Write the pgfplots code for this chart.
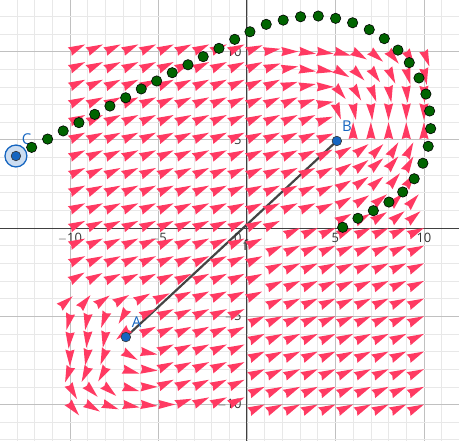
\documentclass[border=0pt]{standalone}
\usepackage{pgfplots}
\pgfplotsset{compat=1.18}
\usepackage{fontspec}
\setmainfont{Open Sans}
\definecolor{pk}{RGB}{255,58,98}
\definecolor{gdot}{RGB}{0,100,0}
\definecolor{ptblue}{RGB}{21,101,192}
\definecolor{minorgrid}{RGB}{232,232,232}
\definecolor{majorgrid}{RGB}{192,192,192}
\definecolor{segc}{RGB}{68,68,68}
\pgfdeclareplotmark{wedge}{%
 \pgfpathmoveto{\pgfqpoint{0pt}{0pt}}%
 \pgfpathlineto{\pgfqpoint{-17pt}{4.6pt}}%
 \pgfpathlineto{\pgfqpoint{-15.5pt}{0pt}}%
 \pgfpathlineto{\pgfqpoint{-17pt}{-4.6pt}}%
 \pgfpathclose\pgfusepathqfill}
\tikzset{tl/.style={inner sep=0pt, text=black!80, font=\fontsize{13}{13}\selectfont}}
\begin{document}
\begin{tikzpicture}
\begin{axis}[name=ax,
 scale only axis, width=459bp, height=441bp,
 xmin=-13.95, xmax=11.98, ymin=-12.07, ymax=12.92,
 axis line style={draw=none},
 xtick={-10,-5,0,5,10}, ytick={-10,-5,0,5,10},
 minor xtick={-13,...,11}, minor ytick={-12,...,12},
 xticklabels={}, yticklabels={},
 major tick length=0pt, minor tick length=0pt,
 grid=both,
 major grid style={draw=majorgrid, line width=0.8pt},
 minor grid style={draw=minorgrid, line width=0.6pt},
]
\draw[black!75, line width=0.9pt] (axis cs:-13.95,0) -- (axis cs:11.98,0);
\draw[black!75, line width=0.9pt] (axis cs:0,-12.07) -- (axis cs:0,12.92);
\addplot[only marks, mark=wedge, color=pk, scatter,
 visualization depends on={\thisrow{a} \as \ang},
 scatter/@pre marker code/.code={\scope[rotate=\ang]},
 scatter/@post marker code/.code={\endscope}]
 table[row sep=\\, x expr={\thisrow{x}+\thisrow{m}*cos(\thisrow{a})}, y expr={\thisrow{y}+\thisrow{m}*sin(\thisrow{a})}] {
x y m a\\
-10 10 .95 25\\ -9 10 .95 25\\ -8 10 .95 25\\ -7 10 .95 25\\ -6 10 .95 25\\ -5 10 .95 25\\ -4 10 .95 25\\ -3 10 .95 25\\ -2 10 .95 25\\ -1 10 .95 25\\ 0 10 .95 22\\
1 10 .9 10\\ 2 10 .9 0\\ 3 10 .9 -8\\ 4 10 .9 -8\\ 5 10 .9 -15\\ 6 10 .9 -30\\ 7 10 .9 -40\\ 8 10 .9 -50\\ 9 10 .9 -60\\ 10 10 .9 -70\\
-10 9 .95 25\\ -9 9 .95 25\\ -8 9 .95 25\\ -7 9 .95 25\\ -6 9 .95 25\\ -5 9 .95 25\\ -4 9 .95 25\\ -3 9 .95 25\\ -2 9 .95 25\\ -1 9 .95 25\\ 0 9 .95 25\\ 1 9 .95 20\\
2 9 .9 10\\ 3 9 .9 -8\\ 4 9 .9 -10\\ 5 9 .9 -30\\ 6 9 .9 -45\\ 7 9 .9 -55\\ 8 9 .9 -65\\ 9 9 .9 -75\\ 10 9 .9 -80\\
-10 8 .95 25\\ -9 8 .95 25\\ -8 8 .95 25\\ -7 8 .95 25\\ -6 8 .95 25\\ -5 8 .95 25\\ -4 8 .95 25\\ -3 8 .95 25\\ -2 8 .95 25\\ -1 8 .95 25\\ 0 8 .95 25\\ 1 8 .95 25\\
2 8 .9 18\\ 3 8 .9 10\\ 4 8 .9 0\\ 5 8 .9 -50\\ 6 8 .9 -60\\ 7 8 .9 -70\\ 8 8 .9 -80\\ 9 8 .9 -85\\ 10 8 .9 -88\\
-10 7 .95 25\\ -9 7 .95 25\\ -8 7 .95 25\\ -7 7 .95 25\\ -6 7 .95 25\\ -5 7 .95 25\\ -4 7 .95 25\\ -3 7 .95 25\\ -2 7 .95 25\\ -1 7 .95 25\\ 0 7 .95 25\\ 1 7 .95 25\\ 2 7 .95 25\\
3 7 .9 20\\ 4 7 .9 10\\ 5 7 .9 -70\\ 6 7 .9 -80\\ 7 7 .9 -85\\ 8 7 .9 -90\\ 9 7 .9 -90\\ 10 7 .9 -90\\
-10 6 .95 25\\ -9 6 .95 25\\ -8 6 .95 25\\ -7 6 .95 25\\ -6 6 .95 25\\ -5 6 .95 25\\ -4 6 .95 25\\ -3 6 .95 25\\ -2 6 .95 25\\ -1 6 .95 25\\ 0 6 .95 25\\ 1 6 .95 25\\ 2 6 .95 25\\ 3 6 .95 25\\
4 6 .9 20\\ 6 6 0 90\\ 7 6 0 90\\ 8 6 0 90\\ 9 6 0 90\\ 10 6 0 90\\
-10 5 .95 25\\ -9 5 .95 25\\ -8 5 .95 25\\ -7 5 .95 25\\ -6 5 .95 25\\ -5 5 .95 25\\ -4 5 .95 25\\ -3 5 .95 25\\ -2 5 .95 25\\ -1 5 .95 25\\ 0 5 .95 25\\ 1 5 .95 25\\ 2 5 .95 25\\ 3 5 .95 25\\ 4 5 .95 22\\
5.91 4.6 0 30\\ 6.86 4.75 0 37\\ 7.7 4.75 0 45\\ 8.55 4.85 0 58\\ 9.4 4.85 0 63\\
-10 4 .95 25\\ -9 4 .95 25\\ -8 4 .95 25\\ -7 4 .95 25\\ -6 4 .95 25\\ -5 4 .95 25\\ -4 4 .95 25\\ -3 4 .95 25\\ -2 4 .95 25\\ -1 4 .95 25\\ 0 4 .95 25\\ 1 4 .95 25\\ 2 4 .95 25\\ 3 4 .95 25\\ 4 4 .95 28\\
5.91 3.66 0 33\\ 6.86 3.85 0 37\\ 7.7 3.95 0 41\\ 8.55 4.05 0 49\\ 9.4 4.05 0 60\\
-10 3 .95 25\\ -9 3 .95 25\\ -8 3 .95 25\\ -7 3 .95 25\\ -6 3 .95 25\\ -5 3 .95 25\\ -4 3 .95 25\\ -3 3 .95 25\\ -2 3 .95 25\\ -1 3 .95 25\\ 0 3 .95 25\\ 1 3 .95 25\\ 2 3 .95 25\\ 3 3 .95 25\\ 4 3 .95 27\\
5.9 2.7 0 30\\ 6.86 2.9 0 35\\ 7.7 2.9 0 40\\ 8.64 3.1 0 50\\ 9.5 3.1 0 55\\
-10 2 .95 25\\ -9 2 .95 25\\ -8 2 .95 25\\ -7 2 .95 25\\ -6 2 .95 25\\ -5 2 .95 25\\ -4 2 .95 25\\ -3 2 .95 25\\ -2 2 .95 25\\ -1 2 .95 25\\ 0 2 .95 25\\ 1 2 .95 25\\ 2 2 .95 25\\ 3 2 .95 25\\ 4 2 .95 26\\
5.9 1.75 0 30\\ 6.9 1.85 0 33\\ 7.9 1.9 0 38\\ 8.8 1.95 0 45\\ 9.7 1.9 0 48\\
-10 1 .95 25\\ -9 1 .95 25\\ -8 1 .95 25\\ -7 1 .95 25\\ -6 1 .95 25\\ -5 1 .95 25\\ -4 1 .95 25\\ -3 1 .95 25\\ -2 1 .95 25\\ -1 1 .95 25\\ 0 1 .95 25\\ 1 1 .95 25\\ 2 1 .95 25\\ 3 1 .95 25\\ 4 1 .95 25\\
5.9 0.8 0 28\\ 6.95 0.8 0 30\\ 7.9 0.9 0 33\\ 8.9 0.95 0 38\\ 9.8 0.95 0 40\\
-10 0 .95 25\\ -9 0 .95 25\\ -8 0 .95 25\\ -7 0 .95 25\\ -6 0 .95 25\\ -5 0 .95 25\\ -4 0 .95 25\\ -3 0 .95 25\\ -2 0 .95 25\\ -1 0 .95 25\\ 0 0 .95 25\\ 1 0 .95 25\\
3 0 0 25\\ 4 0 0 25\\ 5 0 0 25\\ 6 0 0 25\\ 7 0 0 25\\ 8 0 0 25\\ 9 0 0 25\\ 10 0 0 25\\
-10 -1 .95 25\\ -9 -1 .95 25\\ -8 -1 .95 25\\ -7 -1 .95 25\\ -6 -1 .95 25\\ -5 -1 .95 25\\ -4 -1 .95 25\\ -3 -1 .95 25\\ -2 -1 .95 25\\ -1 -1 .95 25\\ 0 -1 .95 25\\
2 -1 0 25\\ 3 -1 0 25\\ 4 -1 0 25\\ 5 -1 0 25\\ 6 -1 0 25\\ 7 -1 0 25\\ 8 -1 0 25\\ 9 -1 0 25\\ 10 -1 0 25\\
-10 -2 .95 25\\ -9 -2 .95 25\\ -8 -2 .95 25\\ -7 -2 .95 25\\ -6 -2 .95 25\\ -5 -2 .95 25\\ -4 -2 .95 25\\ -3 -2 .95 25\\ -2 -2 .95 25\\ -1 -2 .95 25\\ 0 -2 .95 25\\
2 -2 0 25\\ 3 -2 0 25\\ 4 -2 0 25\\ 5 -2 0 25\\ 6 -2 0 25\\ 7 -2 0 25\\ 8 -2 0 25\\ 9 -2 0 25\\ 10 -2 0 25\\
-10 -3 .95 30\\ -9 -3 .95 28\\ -8 -3 .95 25\\ -7 -3 .95 25\\ -6 -3 .95 25\\ -5 -3 .95 25\\ -4 -3 .95 25\\ -3 -3 .95 25\\ -2 -3 .95 25\\ -1 -3 .95 25\\ 0 -3 .95 25\\
2 -3 0 25\\ 3 -3 0 25\\ 4 -3 0 25\\ 5 -3 0 25\\ 6 -3 0 25\\ 7 -3 0 25\\ 8 -3 0 25\\ 9 -3 0 25\\ 10 -3 0 25\\
-10 -4 .2 40\\ -9 -4 .25 50\\ -8 -4 .3 35\\ -7 -4 .4 30\\ -6 -4 .6 28\\ -5 -4 .7 25\\ -4 -4 .95 25\\ -3 -4 .95 25\\ -2 -4 .95 25\\ -1 -4 .95 25\\ 0 -4 .95 25\\
2 -4 0 25\\ 3 -4 0 25\\ 4 -4 0 25\\ 5 -4 0 25\\ 6 -4 0 25\\ 7 -4 0 25\\ 8 -4 0 25\\ 9 -4 0 25\\ 10 -4 0 25\\
-10 -5 .8 -104\\ -9 -5 .8 -100\\ -8 -5 .7 -110\\ -7 -5 .5 -120\\ -6 -5 .95 25\\ -5 -5 .95 25\\ -4 -5 .95 25\\ -3 -5 .95 25\\ -2 -5 .95 25\\ -1 -5 .95 25\\
1 -5 0 25\\ 2 -5 0 25\\ 3 -5 0 25\\ 4 -5 0 25\\ 5 -5 0 25\\ 6 -5 0 25\\ 7 -5 0 25\\ 8 -5 0 25\\ 9 -5 0 25\\ 10 -5 0 25\\
-10 -6 .85 -95\\ -9 -6 .8 -95\\ -8 -6 .8 -100\\ -7 -6 .5 -140\\ -6 -6 .95 25\\ -5 -6 .95 25\\ -4 -6 .95 25\\ -3 -6 .95 25\\ -2 -6 .95 25\\ -1 -6 .95 25\\
1 -6 0 25\\ 2 -6 0 25\\ 3 -6 0 25\\ 4 -6 0 25\\ 5 -6 0 25\\ 6 -6 0 25\\ 7 -6 0 25\\ 8 -6 0 25\\ 9 -6 0 25\\ 10 -6 0 25\\
-10 -7 .85 -90\\ -9 -7 .8 -100\\ -8 -7 .8 -110\\ -7 -7 .95 -30\\ -6 -7 .95 -10\\ -5 -7 .95 25\\ -4 -7 .95 25\\ -3 -7 .95 25\\ -2 -7 .95 25\\ -1 -7 .95 25\\
1 -7 0 25\\ 2 -7 0 25\\ 3 -7 0 25\\ 4 -7 0 25\\ 5 -7 0 25\\ 6 -7 0 25\\ 7 -7 0 25\\ 8 -7 0 25\\ 9 -7 0 25\\ 10 -7 0 25\\
-10 -8 .8 -110\\ -9 -8 .8 -115\\ -8 -8 .8 -120\\ -7 -8 .95 -15\\ -6 -8 .95 -5\\ -5 -8 .95 25\\ -4 -8 .95 25\\ -3 -8 .95 25\\ -2 -8 .95 25\\ -1 -8 .95 25\\
1 -8 0 25\\ 2 -8 0 25\\ 3 -8 0 25\\ 4 -8 0 25\\ 5 -8 0 25\\ 6 -8 0 25\\ 7 -8 0 25\\ 8 -8 0 25\\ 9 -8 0 25\\ 10 -8 0 25\\
-10 -9 .8 -60\\ -9 -9 .8 -45\\ -8 -9 .8 -40\\ -7 -9 .95 -15\\ -6 -9 .95 0\\ -5 -9 .95 25\\ -4 -9 .95 25\\ -3 -9 .95 25\\ -2 -9 .95 25\\ -1 -9 .95 25\\
1 -9 0 25\\ 2 -9 0 25\\ 3 -9 0 25\\ 4 -9 0 25\\ 5 -9 0 25\\ 6 -9 0 25\\ 7 -9 0 25\\ 8 -9 0 25\\ 9 -9 0 25\\ 10 -9 0 25\\
-10 -10 .8 -50\\ -9 -10 .8 -30\\ -8 -10 .8 -20\\ -7 -10 .95 -10\\ -6 -10 .95 -5\\ -5 -10 .95 0\\ -4 -10 .95 20\\ -3 -10 .95 25\\ -2 -10 .95 25\\ -1 -10 .95 25\\
1 -10 0 25\\ 2 -10 0 25\\ 3 -10 0 25\\ 4 -10 0 25\\ 5 -10 0 25\\ 6 -10 0 25\\ 7 -10 0 25\\ 8 -10 0 25\\ 9 -10 0 25\\ 10 -10 0 25\\
};
\addplot[color=segc, line width=2.2pt] coordinates {(-6.84,-6.18) (5.08,4.93)};
\addplot[only marks, mark=*, mark size=5.2pt, mark options={fill=gdot, draw=black, line width=0.6pt}] coordinates {
(-12.16,4.57) (-11.26,5.04) (-10.38,5.50) (-9.49,5.97) (-8.60,6.44) (-7.74,6.91) (-6.85,7.38) (-5.97,7.88) (-5.10,8.33) (-4.22,8.80) (-3.33,9.25) (-2.47,9.71) (-1.58,10.18) (-0.69,10.69) (0.17,11.12) (1.09,11.54) (2.05,11.78) (3.03,11.97) (4.03,12.01) (5.01,11.88) (5.97,11.63) (6.91,11.24) (7.76,10.73) (8.53,10.08) (9.17,9.37) (9.72,8.50) (10.11,7.59) (10.32,6.63) (10.38,5.63) (10.24,4.63) (9.94,3.67) (9.45,2.79) (8.80,2.04) (8.02,1.47) (7.14,0.98) (6.27,0.55) (5.41,0.04)};
\addplot[only marks, mark=*, mark size=11pt, mark options={fill=ptblue!22, draw=ptblue, line width=1.3pt}] coordinates {(-13.05,4.08)};
\addplot[only marks, mark=*, mark size=4.8pt, mark options={fill=ptblue, draw=black!80, line width=0.6pt}] coordinates {(-6.84,-6.18) (5.08,4.93) (-13.05,4.08)};
\node[text=ptblue, font=\fontsize{15}{15}\selectfont] at (axis cs:-6.23,-5.35) {A};
\node[text=ptblue, font=\fontsize{15}{15}\selectfont] at (axis cs:5.65,5.78) {B};
\node[text=ptblue, font=\fontsize{15}{15}\selectfont] at (axis cs:-12.45,5.04) {C};
\node[text=black!85, font=\fontsize{14}{14}\selectfont] at (axis cs:-0.08,-0.96) {f};
\node[tl, anchor=north] at (axis cs:-10,-0.3) {$-$10};
\node[tl, anchor=north] at (axis cs:-5,-0.3) {$-$5};
\node[tl, anchor=north] at (axis cs:5,-0.3) {5};
\node[tl, anchor=north] at (axis cs:10,-0.3) {10};
\node[tl, anchor=east] at (axis cs:-0.3,-10) {$-$10};
\node[tl, anchor=east] at (axis cs:-0.3,-5) {$-$5};
\node[tl, anchor=east] at (axis cs:-0.3,5) {5};
\node[tl, anchor=east] at (axis cs:-0.3,10) {10};
\node[tl, anchor=north east] at (axis cs:-0.3,-0.3) {0};
\end{axis}
\pgfresetboundingbox
\path[use as bounding box] (ax.south west) rectangle (ax.north east);
\end{tikzpicture}
\end{document}
